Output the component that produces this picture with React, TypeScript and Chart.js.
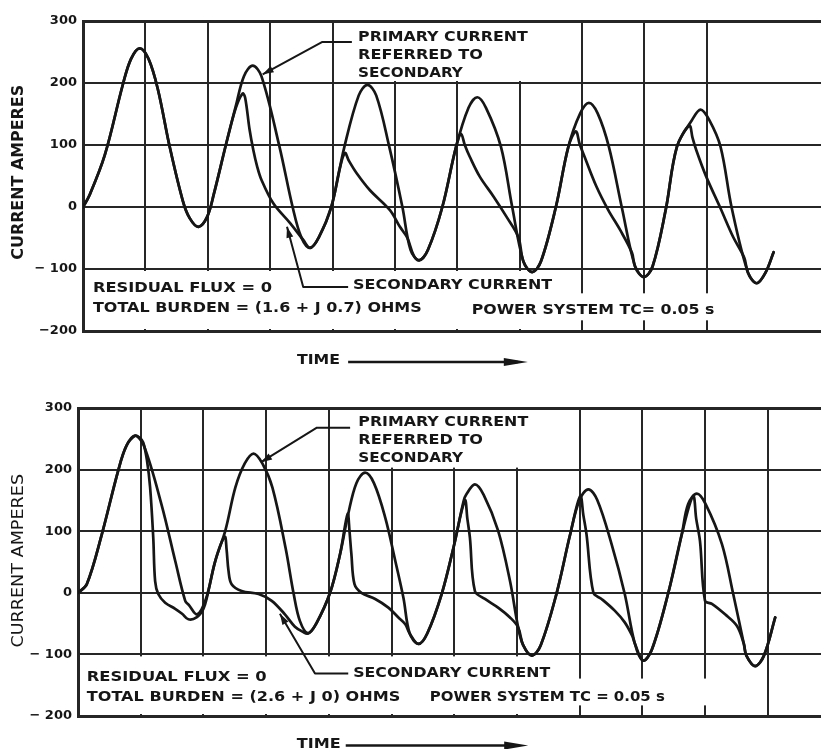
import React, { useEffect, useRef } from 'react';
import { Chart, registerables } from 'chart.js';

Chart.register(...registerables);

// ---------- axis ticks ----------
const yTickValues = [-200, -100, 0, 100, 200, 300];
const topYTickLabels = ['−200', '− 100', '0', '100', '200', '300'];
const bottomYTickLabels = ['− 200', '− 100', '0', '100', '200', '300'];

// ---------- texts ----------
const yTitle = 'CURRENT AMPERES';
const xTitle = 'TIME';
const primaryLabelLines = ['PRIMARY CURRENT', 'REFERRED TO', 'SECONDARY'];
const secondaryLabel = 'SECONDARY CURRENT';
const fluxLabel = 'RESIDUAL FLUX = 0';
const topBurdenLabel = 'TOTAL BURDEN = (1.6 + J 0.7) OHMS';
const bottomBurdenLabel = 'TOTAL BURDEN = (2.6 + J 0) OHMS';
const topTcLabel = 'POWER SYSTEM TC= 0.05 s';
const bottomTcLabel = 'POWER SYSTEM TC = 0.05 s';

// ---------- top chart data (time in grid divisions, current in A) ----------
const topPrimaryX = [0, 0.1, 0.35, 0.64, 0.77, 0.91, 1.05, 1.2, 1.39, 1.6, 1.71, 1.85, 1.99, 2.1, 2.3, 2.45, 2.58, 2.72, 2.86, 3.15, 3.36, 3.5, 3.64, 3.78, 3.98, 4.19, 4.42, 4.56, 4.7, 4.91, 5.12, 5.25, 5.39, 5.53, 5.76, 5.98, 6.18, 6.32, 6.46, 6.7, 6.88, 7.06, 7.2, 7.34, 7.58, 7.78, 7.97, 8.11, 8.25, 8.43, 8.64, 8.85, 8.99, 9.13, 9.34, 9.52, 9.76, 9.9, 10.04, 10.22, 10.4, 10.66, 10.8, 10.94, 11.07];
const topPrimaryY = [0, 18, 84, 198, 239, 256, 239, 190, 97, 10, -18, -32, -16, 22, 104, 163, 211, 228, 211, 97, 0, -49, -66, -49, 0, 97, 180, 197, 180, 97, 0, -69, -86, -69, 0, 97, 160, 177, 160, 97, 0, -88, -105, -88, 0, 97, 151, 168, 151, 97, -2, -96, -113, -96, -5, 97, 140, 157, 140, 97, -2, -106, -123, -106, -73];

const topSecondaryX = [0, 0.1, 0.35, 0.64, 0.77, 0.91, 1.05, 1.2, 1.39, 1.6, 1.71, 1.85, 1.99, 2.1, 2.3, 2.45, 2.56, 2.6, 2.67, 2.73, 2.79, 2.86, 3.05, 3.32, 3.53, 3.64, 3.78, 3.98, 4.12, 4.2, 4.26, 4.39, 4.6, 4.92, 5.08, 5.2, 5.3, 5.39, 5.53, 5.76, 5.98, 6.06, 6.12, 6.2, 6.36, 6.58, 6.79, 6.98, 7.06, 7.2, 7.34, 7.58, 7.78, 7.9, 7.96, 8.04, 8.23, 8.42, 8.61, 8.8, 8.85, 8.99, 9.13, 9.34, 9.52, 9.72, 9.77, 9.83, 9.99, 10.21, 10.42, 10.6, 10.66, 10.8, 10.94, 11.07];
const topSecondaryY = [0, 18, 84, 198, 239, 256, 239, 190, 97, 10, -18, -32, -16, 22, 104, 160, 183, 176, 125, 92, 66, 44, 6, -26, -53, -66, -49, 0, 64, 87, 75, 54, 27, -5, -32, -50, -78, -86, -69, 0, 97, 118, 100, 81, 49, 17, -16, -49, -88, -105, -88, 0, 97, 122, 102, 81, 33, -5, -37, -74, -96, -113, -96, -5, 97, 131, 112, 92, 49, 0, -48, -82, -106, -123, -106, -73];

// ---------- bottom chart data ----------
const bottomPrimaryX = [0, 0.14, 0.38, 0.64, 0.77, 0.91, 1.05, 1.33, 1.55, 1.71, 1.77, 1.9, 2.04, 2.19, 2.35, 2.51, 2.66, 2.8, 2.94, 3.1, 3.31, 3.44, 3.54, 3.67, 3.8, 4.02, 4.18, 4.31, 4.44, 4.58, 4.72, 4.9, 5.06, 5.19, 5.29, 5.43, 5.57, 5.8, 5.99, 6.15, 6.19, 6.33, 6.47, 6.7, 6.89, 7.02, 7.1, 7.24, 7.38, 7.63, 7.85, 8.0, 8.14, 8.28, 8.51, 8.72, 8.88, 9.01, 9.15, 9.41, 9.63, 9.73, 9.87, 10.01, 10.27, 10.45, 10.62, 10.66, 10.8, 10.94, 11.12];
const bottomPrimaryY = [0, 14, 95, 198, 238, 255, 239, 144, 52, -13, -20, -35, -10, 52, 101, 171, 210, 226, 210, 171, 73, -2, -46, -66, -50, 0, 63, 128, 178, 195, 178, 122, 52, -8, -66, -83, -66, -2, 74, 149, 159, 176, 159, 101, 19, -56, -85, -102, -85, -2, 95, 151, 168, 151, 79, -2, -82, -110, -93, -2, 95, 144, 161, 144, 79, -2, -83, -102, -119, -102, -40];

const bottomSecondaryX = [0, 0.14, 0.38, 0.64, 0.77, 0.91, 0.98, 1.04, 1.1, 1.15, 1.2, 1.23, 1.28, 1.39, 1.55, 1.66, 1.76, 1.89, 2.0, 2.06, 2.19, 2.34, 2.37, 2.4, 2.45, 2.61, 2.88, 3.09, 3.3, 3.46, 3.58, 3.67, 3.8, 4.02, 4.18, 4.3, 4.33, 4.36, 4.41, 4.52, 4.74, 4.95, 5.11, 5.22, 5.29, 5.43, 5.57, 5.8, 5.99, 6.17, 6.21, 6.25, 6.33, 6.49, 6.7, 6.89, 7.02, 7.1, 7.24, 7.38, 7.63, 7.85, 8.01, 8.06, 8.11, 8.22, 8.35, 8.56, 8.72, 8.84, 8.88, 9.01, 9.15, 9.41, 9.63, 9.81, 9.86, 9.92, 10.0, 10.11, 10.32, 10.51, 10.62, 10.66, 10.8, 10.94, 11.12];
const bottomSecondaryY = [0, 14, 95, 198, 238, 255, 252, 244, 215, 171, 90, 19, -2, -16, -26, -34, -43, -40, -26, -6, 52, 91, 70, 36, 14, 3, -2, -13, -35, -55, -63, -66, -50, 0, 63, 128, 100, 63, 14, 0, -10, -24, -40, -51, -66, -83, -66, -2, 74, 150, 120, 90, 3, -10, -24, -40, -56, -85, -102, -85, -2, 95, 157, 126, 95, 0, -10, -29, -48, -70, -82, -110, -93, -2, 95, 157, 120, 84, -13, -18, -35, -54, -83, -102, -119, -102, -40];

// ---------- styling ----------
const INK = '#161616';
const GRID = '#262626';
const FONT = '"DejaVu Sans", "Liberation Sans", sans-serif';

type Txt = { text: string; u: number; v: number; w: number };
type PanelCfg = {
  top: number;
  height: number;
  padTop: number;
  padBottom: number;
  axisWidth: number;
  xMax: number;
  tickLabels: string[];
  primaryX: number[];
  primaryY: number[];
  secondaryX: number[];
  secondaryY: number[];
  texts: Txt[];
  textFont: string;
  leaders: number[][][];
  timeArrow: number[];
  title: { u: number; v: number; len: number; font: string };
  gaps: number[][];
};

const gapsCommon = [
  [4.6, 7.5, 200, 300],
  [0, 7.6, -200, -100],
  [7.6, 10.6, -186, -136],
];

const topCfg: PanelCfg = {
  top: 0,
  height: 372,
  padTop: 21,
  padBottom: 41,
  axisWidth: 83,
  xMax: 11.83,
  tickLabels: topYTickLabels,
  primaryX: topPrimaryX,
  primaryY: topPrimaryY,
  secondaryX: topSecondaryX,
  secondaryY: topSecondaryY,
  texts: [
    { text: primaryLabelLines[0], u: 4.41, v: 274, w: 2.72 },
    { text: primaryLabelLines[1], u: 4.41, v: 245, w: 2.0 },
    { text: primaryLabelLines[2], u: 4.41, v: 216, w: 1.68 },
    { text: secondaryLabel, u: 4.33, v: -127, w: 3.19 },
    { text: fluxLabel, u: 0.16, v: -132, w: 2.87 },
    { text: topBurdenLabel, u: 0.16, v: -163, w: 5.27 },
    { text: topTcLabel, u: 6.23, v: -166, w: 3.89 },
    { text: xTitle, u: 3.43, v: -248, w: 0.69 },
  ],
  textFont: `bold 14px ${FONT}`,
  leaders: [
    [[4.31, 266], [3.83, 266], [2.88, 214]],
    [[4.25, -129], [3.53, -129], [3.27, -32]],
  ],
  timeArrow: [4.25, 7.13, -250],
  title: { u: -1.03, v: 56, len: 282, font: `bold 15px ${FONT}` },
  gaps: gapsCommon,
};

const bottomCfg: PanelCfg = {
  top: 372,
  height: 377,
  padTop: 36,
  padBottom: 33,
  axisWidth: 78,
  xMax: 11.85,
  tickLabels: bottomYTickLabels,
  primaryX: bottomPrimaryX,
  primaryY: bottomPrimaryY,
  secondaryX: bottomSecondaryX,
  secondaryY: bottomSecondaryY,
  texts: [
    { text: primaryLabelLines[0], u: 4.47, v: 276, w: 2.71 },
    { text: primaryLabelLines[1], u: 4.47, v: 247, w: 1.99 },
    { text: primaryLabelLines[2], u: 4.47, v: 218, w: 1.67 },
    { text: secondaryLabel, u: 4.39, v: -131, w: 3.14 },
    { text: fluxLabel, u: 0.14, v: -138, w: 2.87 },
    { text: bottomBurdenLabel, u: 0.14, v: -169, w: 5.0 },
    { text: bottomTcLabel, u: 5.61, v: -170, w: 3.75 },
    { text: xTitle, u: 3.49, v: -246, w: 0.7 },
  ],
  textFont: `bold 14px ${FONT}`,
  leaders: [
    [[4.34, 268], [3.81, 268], [2.92, 212]],
    [[4.31, -131], [3.78, -131], [3.22, -34]],
  ],
  timeArrow: [4.27, 7.18, -248],
  title: { u: -0.94, v: 52, len: 282, font: `15px ${FONT}` },
  gaps: gapsCommon,
};

function fitText(ctx: CanvasRenderingContext2D, text: string, x: number, y: number, width: number, font: string) {
  ctx.save();
  ctx.font = font;
  ctx.textBaseline = 'middle';
  ctx.textAlign = 'left';
  const m = ctx.measureText(text).width || 1;
  ctx.translate(x, y);
  ctx.scale(width / m, 1);
  ctx.fillText(text, 0, 0);
  ctx.restore();
}

function arrowHead(ctx: CanvasRenderingContext2D, fx: number, fy: number, tx: number, ty: number, len: number, half: number) {
  const a = Math.atan2(ty - fy, tx - fx);
  const bx = tx - len * Math.cos(a);
  const by = ty - len * Math.sin(a);
  ctx.beginPath();
  ctx.moveTo(tx, ty);
  ctx.lineTo(bx + half * Math.sin(a), by - half * Math.cos(a));
  ctx.lineTo(bx - half * Math.sin(a), by + half * Math.cos(a));
  ctx.closePath();
  ctx.fill();
}

function makeDecor(cfg: PanelCfg) {
  return {
    id: 'decor',
    beforeDatasetsDraw(chart: any) {
      const { ctx, scales } = chart;
      const x = scales.x;
      const y = scales.y;
      ctx.save();
      ctx.fillStyle = '#ffffff';
      for (const g of cfg.gaps) {
        const x0 = x.getPixelForValue(g[0]) + 2;
        const x1 = x.getPixelForValue(g[1]);
        const yTop = y.getPixelForValue(g[3]) + 2;
        const yBot = y.getPixelForValue(g[2]) - 2;
        ctx.fillRect(x0, yTop, x1 - x0, yBot - yTop);
      }
      ctx.restore();
    },
    afterDraw(chart: any) {
      const { ctx, scales } = chart;
      const x = scales.x;
      const y = scales.y;
      ctx.save();
      ctx.fillStyle = INK;
      ctx.strokeStyle = INK;
      for (const t of cfg.texts) {
        const px = x.getPixelForValue(t.u);
        const py = y.getPixelForValue(t.v);
        const w = x.getPixelForValue(t.u + t.w) - px;
        fitText(ctx, t.text, px, py, w, cfg.textFont);
      }
      ctx.lineWidth = 2;
      ctx.lineJoin = 'round';
      for (const l of cfg.leaders) {
        const pts = l.map((p) => [x.getPixelForValue(p[0]), y.getPixelForValue(p[1])]);
        ctx.beginPath();
        ctx.moveTo(pts[0][0], pts[0][1]);
        for (let i = 1; i < pts.length; i++) ctx.lineTo(pts[i][0], pts[i][1]);
        ctx.stroke();
        const n = pts.length;
        arrowHead(ctx, pts[n - 2][0], pts[n - 2][1], pts[n - 1][0], pts[n - 1][1], 11, 3.5);
      }
      const ax0 = x.getPixelForValue(cfg.timeArrow[0]);
      const ax1 = x.getPixelForValue(cfg.timeArrow[1]);
      const ay = y.getPixelForValue(cfg.timeArrow[2]);
      ctx.lineWidth = 2.5;
      ctx.beginPath();
      ctx.moveTo(ax0, ay);
      ctx.lineTo(ax1 - 10, ay);
      ctx.stroke();
      arrowHead(ctx, ax0, ay, ax1, ay, 24, 4);
      const tx = x.getPixelForValue(cfg.title.u);
      const ty = y.getPixelForValue(cfg.title.v);
      const len = Math.abs(y.getPixelForValue(cfg.title.v + cfg.title.len) - ty);
      ctx.translate(tx, ty);
      ctx.rotate(-Math.PI / 2);
      ctx.font = cfg.title.font;
      ctx.textBaseline = 'middle';
      ctx.textAlign = 'center';
      const m = ctx.measureText(yTitle).width || 1;
      ctx.scale(len / m, 1);
      ctx.fillText(yTitle, 0, 0);
      ctx.restore();
    },
  };
}

function Panel({ cfg }: { cfg: PanelCfg }) {
  const ref = useRef<HTMLCanvasElement>(null);
  useEffect(() => {
    const canvas = ref.current;
    if (!canvas) return;
    const lineStyle = {
      borderColor: INK,
      borderWidth: 2.7,
      pointRadius: 0,
      pointHoverRadius: 0,
      fill: false,
      tension: 0.35,
      borderJoinStyle: 'round' as const,
      borderCapStyle: 'round' as const,
    };
    const chart = new Chart(canvas, {
      type: 'line',
      data: {
        datasets: [
          { label: 'Primary current referred to secondary', data: cfg.primaryX.map((u, i) => ({ x: u, y: cfg.primaryY[i] })), ...lineStyle },
          { label: 'Secondary current', data: cfg.secondaryX.map((u, i) => ({ x: u, y: cfg.secondaryY[i] })), ...lineStyle },
        ],
      },
      options: {
        responsive: false,
        animation: false,
        events: [],
        devicePixelRatio: 1,
        layout: { padding: { left: 0, right: 0, top: cfg.padTop, bottom: cfg.padBottom } },
        plugins: { legend: { display: false }, tooltip: { enabled: false }, title: { display: false } },
        scales: {
          x: {
            type: 'linear',
            min: 0,
            max: cfg.xMax,
            ticks: { display: false, stepSize: 1 },
            grid: {
              drawTicks: false,
              lineWidth: 2,
              color: (c: any) => (Number.isInteger(c.tick?.value) ? GRID : 'rgba(0,0,0,0)'),
            },
            border: { display: true, color: GRID, width: 3 },
            afterFit: (s: any) => {
              s.height = 0;
            },
          },
          y: {
            type: 'linear',
            min: -200,
            max: 300,
            ticks: {
              stepSize: 100,
              padding: 6,
              color: INK,
              font: { family: FONT, size: 13, weight: 'bold' },
              callback: (val: any) => {
                const i = yTickValues.indexOf(Number(val));
                return i >= 0 ? cfg.tickLabels[i] : '';
              },
            },
            grid: {
              drawTicks: false,
              color: GRID,
              lineWidth: (c: any) => (c.tick && (c.tick.value === 300 || c.tick.value === -200) ? 3 : 2),
            },
            border: { display: true, color: GRID, width: 3 },
            afterFit: (s: any) => {
              s.width = cfg.axisWidth;
            },
          },
        },
      } as any,
      plugins: [makeDecor(cfg) as any],
    });
    return () => chart.destroy();
  }, [cfg]);
  return (
    <canvas
      ref={ref}
      width={821}
      height={cfg.height}
      style={{ position: 'absolute', left: 0, top: cfg.top, width: 821, height: cfg.height, display: 'block' }}
    />
  );
}

export default function App() {
  return (
    <div style={{ position: 'absolute', left: 0, top: 0, width: 821, height: 749, background: '#ffffff', overflow: 'hidden' }}>
      <Panel cfg={topCfg} />
      <Panel cfg={bottomCfg} />
    </div>
  );
}
